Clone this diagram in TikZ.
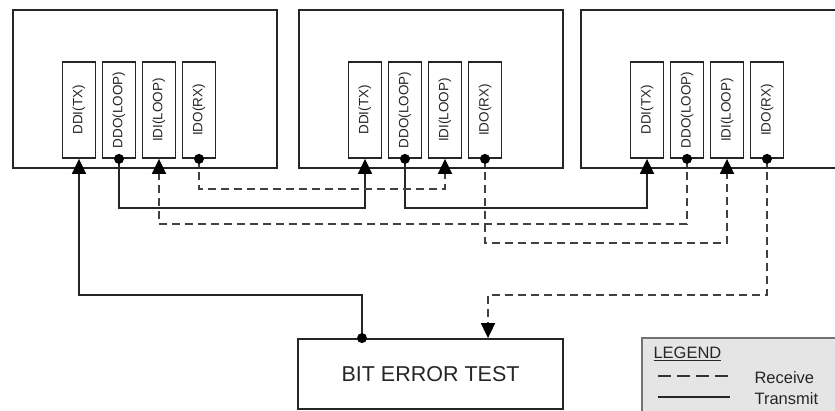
\documentclass[tikz,border=0pt]{standalone}
\usepackage{fontspec}
\setmainfont{Liberation Sans}
\usetikzlibrary{arrows.meta}

\begin{document}
\begin{tikzpicture}[x=1pt, y=-1pt,
  every node/.style={font=\fontsize{13.5}{15}\selectfont, text=black!85},
  unit/.style={draw=black!85, line width=1.8pt, inner sep=0pt,
    minimum width=264pt, minimum height=158pt},
  pin/.style={draw=black!85, line width=1.8pt, inner sep=0pt,
    minimum width=33pt, minimum height=96pt},
  tester/.style={draw=black!85, line width=1.8pt, inner sep=0pt,
    minimum width=265pt, minimum height=70pt, font=\fontsize{21.5}{24}\selectfont},
  legendbox/.style={draw=black!55, fill=black!10, line width=2.2pt, inner sep=0pt,
    minimum width=208pt, minimum height=82pt},
  tx/.style={line width=1.8pt, draw=black!85, -{Triangle[width=14pt,length=15pt,color=black]}},
  rx/.style={line width=1.8pt, draw=black!75, dash pattern=on 8pt off 5pt,
    -{Triangle[width=14pt,length=15pt,color=black]}}]

  \useasboundingbox (0,0) rectangle (835,411);
  \clip (0,0) rectangle (835,411);

  % Units
  \foreach \i/\x in {1/13,2/299,3/581}{
    \node[unit] (box\i) at (\x+132,89) {};
    \foreach \p/\lab/\dx in {ddi/DDI(TX)/66,ddo/DDO(LOOP)/106,idi/IDI(LOOP)/146,ido/IDO(RX)/186}
      \node[pin] (\p\i) at (\x+\dx,110) {\rotatebox{90}{\lab}};
  }

  \node[tester] (bet) at (430.5,374) {BIT ERROR TEST};
  \coordinate (betout) at ([xshift=-68.5pt]bet.north);
  \coordinate (betin) at ([xshift=57.5pt]bet.north);

  % Lanes
  \coordinate (lane1) at (0,189);
  \coordinate (lane2) at (0,208);
  \coordinate (lane3) at (0,224);
  \coordinate (lane4) at (0,243);
  \coordinate (lane5) at (0,295);

  % Transmit connectors
  \draw[tx] (ddo1.south) -- (ddo1.south |- lane2) -- (ddi2.south |- lane2) -- (ddi2.south);
  \draw[tx] (ddo2.south) -- (ddo2.south |- lane2) -- (ddi3.south |- lane2) -- (ddi3.south);
  \draw[tx] (betout) -- (betout |- lane5) -- (ddi1.south |- lane5) -- (ddi1.south);

  % Receive connectors
  \draw[rx] (ido1.south) -- (ido1.south |- lane1) -- (idi2.south |- lane1) -- (idi2.south);
  \draw[rx] (ddo3.south) -- (ddo3.south |- lane3) -- (idi1.south |- lane3) -- (idi1.south);
  \draw[rx] (ido2.south) -- (ido2.south |- lane4) -- (idi3.south |- lane4) -- (idi3.south);
  \draw[rx] (ido3.south) -- (ido3.south |- lane5) -- (betin |- lane5) -- (betin);

  % Source dots
  \foreach \s in {ddo1,ddo2,ddo3,ido1,ido2,ido3}
    \fill[black] (\s.south) circle (5);
  \fill[black] (betout) circle (5);

  % Legend
  \node[legendbox] (legend) at (746,379) {};
  \node[anchor=base west, font=\fontsize{16.5}{19}\selectfont] (legendhead) at (650,359) {\underline{LEGEND}};
  \coordinate (rxa) at (658,376);
  \coordinate (rxb) at (730,376);
  \coordinate (txa) at (658,397);
  \coordinate (txb) at (730,397);
  \draw[line width=1.8pt, black!80, dash pattern=on 13pt off 6pt] (rxa) -- (rxb);
  \draw[line width=1.8pt, black!85] (txa) -- (txb);
  \node[anchor=base west, font=\fontsize{16.5}{19}\selectfont] (rxlab) at (751,383) {Receive};
  \node[anchor=base west, font=\fontsize{16.5}{19}\selectfont] (txlab) at (751,404) {Transmit};
\end{tikzpicture}
\end{document}
